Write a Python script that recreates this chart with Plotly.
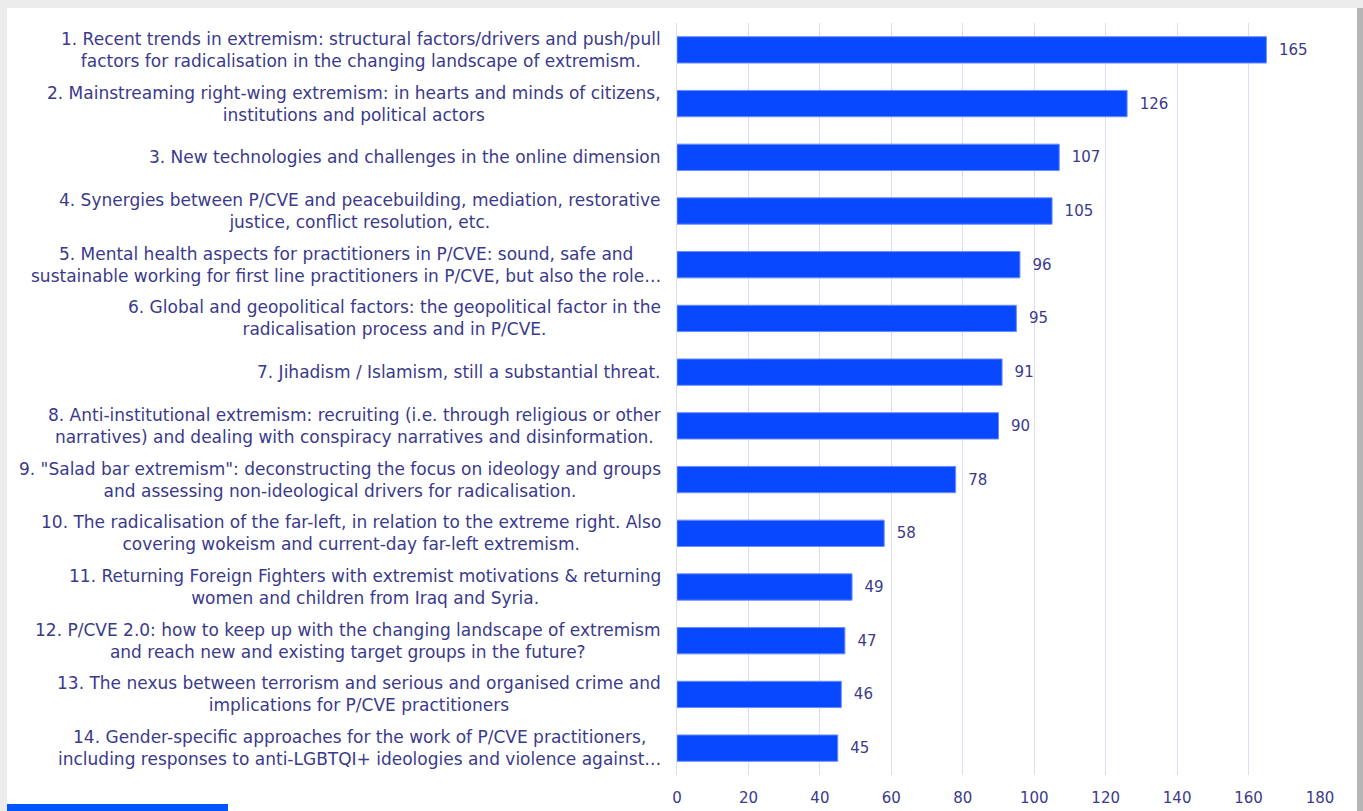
import plotly.graph_objects as go

labels = [
    "1. Recent trends in extremism: structural factors/drivers and push/pull<br>factors for radicalisation in the changing landscape of extremism.",
    "2. Mainstreaming right-wing extremism: in hearts and minds of citizens,<br>institutions and political actors",
    "3. New technologies and challenges in the online dimension",
    "4. Synergies between P/CVE and peacebuilding, mediation, restorative<br>justice, conflict resolution, etc.",
    "5. Mental health aspects for practitioners in P/CVE: sound, safe and<br>sustainable working for first line practitioners in P/CVE, but also the role…",
    "6. Global and geopolitical factors: the geopolitical factor in the<br>radicalisation process and in P/CVE.",
    "7. Jihadism / Islamism, still a substantial threat.",
    "8. Anti-institutional extremism: recruiting (i.e. through religious or other<br>narratives) and dealing with conspiracy narratives and disinformation.",
    "9. \"Salad bar extremism\": deconstructing the focus on ideology and groups<br>and assessing non-ideological drivers for radicalisation.",
    "10. The radicalisation of the far-left, in relation to the extreme right. Also<br>covering wokeism and current-day far-left extremism.",
    "11. Returning Foreign Fighters with extremist motivations & returning<br>women and children from Iraq and Syria.",
    "12. P/CVE 2.0: how to keep up with the changing landscape of extremism<br>and reach new and existing target groups in the future?",
    "13. The nexus between terrorism and serious and organised crime and<br>implications for P/CVE practitioners",
    "14. Gender-specific approaches for the work of P/CVE practitioners,<br>including responses to anti-LGBTQI+ ideologies and violence against…",
]
values = [165, 126, 107, 105, 96, 95, 91, 90, 78, 58, 49, 47, 46, 45]
x_ticks = [0, 20, 40, 60, 80, 100, 120, 140, 160, 180]

keys = ["topic_%d" % (i + 1) for i in range(len(labels))]
NAVY = "#3a3a8c"
FONT = "DejaVu Sans"

fig = go.Figure()
fig.add_trace(go.Bar(
    x=values, y=keys, orientation="h",
    marker=dict(color="#0848ff", line=dict(color="#6a8cff", width=1)),
    width=0.49,
    text=["\u00a0\u00a0" + str(v) for v in values], textposition="outside",
    textfont=dict(family=FONT, size=15, color=NAVY),
    cliponaxis=False,
))

for k, lab in zip(keys, labels):
    fig.add_annotation(
        x=0, xref="paper", y=k, yref="y", text=lab, showarrow=False,
        xanchor="right", yanchor="middle", align="center", xshift=-14,
        font=dict(family=FONT, size=17, color=NAVY),
    )

# card background and decorative bottom bar
W, H = 1363, 811
L, R, T, B = 677, 43, 23, 36
pw, ph = W - L - R, H - T - B
def px(x):
    return (x - L) / pw
def py(y):
    return (H - B - y) / ph

fig.add_shape(type="rect", xref="paper", yref="paper", x0=px(7), x1=px(1357), y0=py(811), y1=py(8),
              fillcolor="white", line=dict(width=0), layer="below")
fig.add_shape(type="rect", xref="paper", yref="paper", x0=px(1357), x1=px(1363), y0=py(811), y1=py(8),
              fillcolor="#b5b5b5", line=dict(width=0), layer="below")
fig.add_shape(type="rect", xref="paper", yref="paper", x0=px(7), x1=px(228), y0=py(811), y1=py(804),
              fillcolor="#0055ff", line=dict(width=0), layer="above")

fig.update_layout(
    width=W, height=H,
    margin=dict(l=L, r=R, t=T, b=B, autoexpand=False),
    paper_bgcolor="#ececec", plot_bgcolor="rgba(0,0,0,0)",
    showlegend=False,
    xaxis=dict(range=[0, 180], tickvals=x_ticks, showgrid=True, gridcolor="#dcdcf4", gridwidth=1,
               zeroline=False, showline=False, ticks="", ticklabelstandoff=12, automargin=False,
               tickfont=dict(family=FONT, size=15, color=NAVY)),
    yaxis=dict(categoryorder="array", categoryarray=keys, autorange="reversed", automargin=False,
               showticklabels=False, showgrid=False, ticks="", zeroline=False,
               showline=True, linecolor="#dcdcf4", linewidth=1),
)

fig.write_html("out.html")
